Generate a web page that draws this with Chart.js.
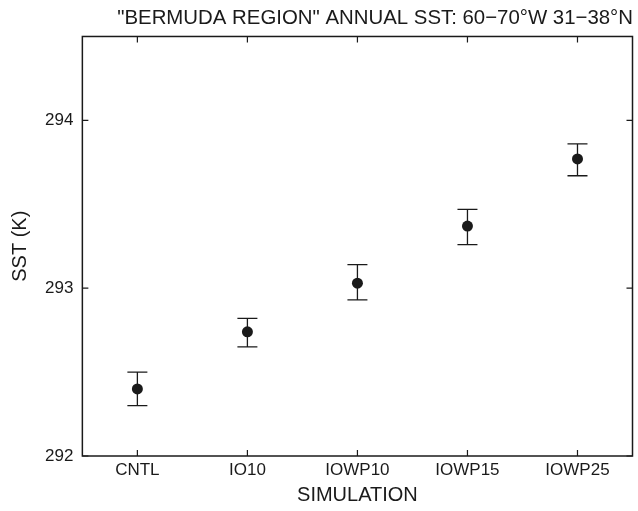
<!DOCTYPE html>
<html>
<head>
<meta charset="utf-8">
<script src="https://cdn.jsdelivr.net/npm/chart.js@4.4.0/dist/chart.umd.min.js"></script>
<style>
  html, body { margin: 0; padding: 0; background: #fff; }
  #wrap { width: 638px; height: 511px; }
</style>
</head>
<body>
<div id="wrap"><canvas id="sstChart"></canvas></div>
<script>
const simulations = ['CNTL', 'IO10', 'IOWP10', 'IOWP15', 'IOWP25'];
const sstMean = [292.40, 292.74, 293.03, 293.37, 293.77];
const sstLow = [292.30, 292.65, 292.93, 293.26, 293.67];
const sstHigh = [292.50, 292.82, 293.14, 293.47, 293.86];
const yTicks = [292, 293, 294];

const ink = '#1a1a1a';
const face = 'Liberation Sans, Arial, sans-serif';

// error bars, box frame and inward ticks on all four sides
const frameAndErrors = {
    id: 'frameAndErrors',
    afterDatasetsDraw(chart) {
        const ctx = chart.ctx;
        const area = chart.chartArea;
        const x = chart.scales.x;
        const y = chart.scales.y;
        const meta = chart.getDatasetMeta(0);
        ctx.save();
        ctx.strokeStyle = ink;
        ctx.lineWidth = 1.3;

        meta.data.forEach((pt, i) => {
            const yl = y.getPixelForValue(sstLow[i]);
            const yh = y.getPixelForValue(sstHigh[i]);
            ctx.beginPath();
            ctx.moveTo(pt.x, yl); ctx.lineTo(pt.x, yh);
            ctx.moveTo(pt.x - 10, yl); ctx.lineTo(pt.x + 10, yl);
            ctx.moveTo(pt.x - 10, yh); ctx.lineTo(pt.x + 10, yh);
            ctx.stroke();
        });

        ctx.lineWidth = 1.5;
        ctx.strokeRect(area.left, area.top, area.right - area.left, area.bottom - area.top);

        ctx.lineWidth = 1.2;
        const len = 6;
        ctx.beginPath();
        simulations.forEach((s, i) => {
            const px = x.getPixelForValue(i);
            ctx.moveTo(px, area.bottom); ctx.lineTo(px, area.bottom - len);
            ctx.moveTo(px, area.top); ctx.lineTo(px, area.top + len);
        });
        yTicks.forEach(v => {
            const py = y.getPixelForValue(v);
            ctx.moveTo(area.left, py); ctx.lineTo(area.left + len, py);
            ctx.moveTo(area.right, py); ctx.lineTo(area.right - len, py);
        });
        ctx.stroke();
        ctx.restore();
    }
};

new Chart(document.getElementById('sstChart'), {
    type: 'line',
    data: {
        labels: simulations,
        datasets: [{
            data: sstMean,
            showLine: false,
            pointRadius: 5.5,
            pointBackgroundColor: ink,
            pointBorderColor: ink,
            pointBorderWidth: 0
        }]
    },
    options: {
        responsive: true,
        maintainAspectRatio: false,
        animation: false,
        layout: { padding: { left: 8, right: 5, top: 0, bottom: 6 } },
        plugins: {
            legend: { display: false },
            tooltip: { enabled: false },
            title: {
                display: true,
                text: '"BERMUDA REGION" ANNUAL SST: 60\u221270\u00b0W 31\u221238\u00b0N',
                align: 'end',
                color: ink,
                font: { family: face, size: 20.4, weight: 'normal' },
                padding: { top: 6, bottom: 6 }
            }
        },
        scales: {
            x: {
                type: 'category',
                offset: true,
                grid: { display: false, drawTicks: false, offset: false },
                border: { display: false },
                ticks: {
                    color: ink,
                    padding: 6,
                    font: { family: face, size: 17, lineHeight: 1.0 }
                },
                title: {
                    display: true,
                    text: 'SIMULATION',
                    color: ink,
                    padding: { top: 0, bottom: 0 },
                    font: { family: face, size: 20, lineHeight: 1.0 }
                }
            },
            y: {
                min: 292,
                max: 294.5,
                afterBuildTicks(axis) {
                    axis.ticks = yTicks.map(v => ({ value: v }));
                },
                grid: { display: false, drawTicks: false },
                border: { display: false },
                ticks: {
                    color: ink,
                    padding: 9,
                    font: { family: face, size: 17 }
                },
                title: {
                    display: true,
                    text: 'SST (K)',
                    color: ink,
                    padding: { top: 0, bottom: 4 },
                    font: { family: face, size: 20 }
                }
            }
        }
    },
    plugins: [frameAndErrors]
});
</script>
</body>
</html>
